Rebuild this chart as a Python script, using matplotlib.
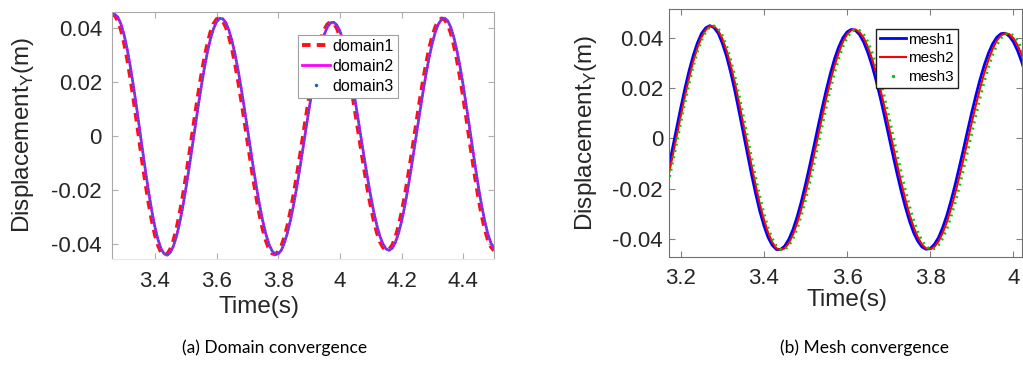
import matplotlib
matplotlib.use("Agg")
import matplotlib.pyplot as plt
from matplotlib.lines import Line2D

plt.rcParams["font.family"] = ["Liberation Sans", "DejaVu Sans"]
plt.rcParams["mathtext.fontset"] = "custom"
plt.rcParams["mathtext.rm"] = "Liberation Sans"

# (a) domain convergence
t_dom = [3.26, 3.27, 3.28, 3.29, 3.30, 3.31, 3.32, 3.33, 3.34, 3.35,
         3.36, 3.37, 3.38, 3.39, 3.40, 3.41, 3.42, 3.43, 3.44, 3.45,
         3.46, 3.47, 3.48, 3.49, 3.50, 3.51, 3.52, 3.53, 3.54, 3.55,
         3.56, 3.57, 3.58, 3.59, 3.60, 3.61, 3.62, 3.63, 3.64, 3.65,
         3.66, 3.67, 3.68, 3.69, 3.70, 3.71, 3.72, 3.73, 3.74, 3.75,
         3.76, 3.77, 3.78, 3.79, 3.80, 3.81, 3.82, 3.83, 3.84, 3.85,
         3.86, 3.87, 3.88, 3.89, 3.90, 3.91, 3.92, 3.93, 3.94, 3.95,
         3.96, 3.97, 3.98, 3.99, 4.00, 4.01, 4.02, 4.03, 4.04, 4.05,
         4.06, 4.07, 4.08, 4.09, 4.10, 4.11, 4.12, 4.13, 4.14, 4.15,
         4.16, 4.17, 4.18, 4.19, 4.20, 4.21, 4.22, 4.23, 4.24, 4.25,
         4.26, 4.27, 4.28, 4.29, 4.30, 4.31, 4.32, 4.33, 4.34, 4.35,
         4.36, 4.37, 4.38, 4.39, 4.40, 4.41, 4.42, 4.43, 4.44, 4.45,
         4.46, 4.47, 4.48, 4.49, 4.50]
domain1 = [0.0449, 0.0445, 0.0426, 0.0392, 0.0345, 0.0286, 0.0218, 0.0142, 0.0062, -0.0020,
           -0.0102, -0.0179, -0.0250, -0.0312, -0.0365, -0.0404, -0.0430, -0.0440, -0.0437, -0.0419,
           -0.0388, -0.0344, -0.0290, -0.0227, -0.0156, -0.0081, -0.0003, 0.0075, 0.0150, 0.0220,
           0.0284, 0.0338, 0.0382, 0.0413, 0.0431, 0.0435, 0.0425, 0.0403, 0.0369, 0.0323,
           0.0267, 0.0203, 0.0133, 0.0059, -0.0017, -0.0092, -0.0165, -0.0233, -0.0294, -0.0346,
           -0.0387, -0.0417, -0.0434, -0.0438, -0.0429, -0.0408, -0.0375, -0.0332, -0.0278, -0.0217,
           -0.0150, -0.0079, -0.0005, 0.0069, 0.0140, 0.0206, 0.0266, 0.0319, 0.0362, 0.0394,
           0.0413, 0.0421, 0.0416, 0.0399, 0.0369, 0.0329, 0.0279, 0.0221, 0.0156, 0.0086,
           0.0014, -0.0059, -0.0130, -0.0198, -0.0259, -0.0313, -0.0357, -0.0391, -0.0412, -0.0423,
           -0.0420, -0.0404, -0.0376, -0.0336, -0.0285, -0.0226, -0.0159, -0.0087, -0.0013, 0.0062,
           0.0136, 0.0205, 0.0268, 0.0324, 0.0369, 0.0403, 0.0425, 0.0434, 0.0430, 0.0411,
           0.0380, 0.0335, 0.0280, 0.0215, 0.0144, 0.0068, -0.0011, -0.0088, -0.0163, -0.0232,
           -0.0294, -0.0344, -0.0384, -0.0410, -0.0424]
domain2 = [0.0445, 0.0449, 0.0439, 0.0413, 0.0374, 0.0322, 0.0259, 0.0188, 0.0111, 0.0029,
           -0.0053, -0.0133, -0.0209, -0.0277, -0.0336, -0.0383, -0.0417, -0.0436, -0.0441, -0.0431,
           -0.0408, -0.0372, -0.0324, -0.0266, -0.0199, -0.0126, -0.0050, 0.0028, 0.0105, 0.0179,
           0.0247, 0.0307, 0.0357, 0.0395, 0.0421, 0.0434, 0.0433, 0.0419, 0.0391, 0.0352,
           0.0302, 0.0243, 0.0176, 0.0104, 0.0029, -0.0047, -0.0122, -0.0193, -0.0258, -0.0315,
           -0.0363, -0.0400, -0.0425, -0.0437, -0.0436, -0.0423, -0.0396, -0.0359, -0.0311, -0.0255,
           -0.0191, -0.0122, -0.0049, 0.0025, 0.0098, 0.0167, 0.0231, 0.0289, 0.0337, 0.0376,
           0.0403, 0.0418, 0.0420, 0.0410, 0.0388, 0.0355, 0.0310, 0.0257, 0.0195, 0.0128,
           0.0057, -0.0016, -0.0088, -0.0157, -0.0222, -0.0281, -0.0331, -0.0371, -0.0400, -0.0418,
           -0.0423, -0.0415, -0.0394, -0.0361, -0.0317, -0.0263, -0.0200, -0.0131, -0.0057, 0.0018,
           0.0092, 0.0164, 0.0231, 0.0292, 0.0343, 0.0385, 0.0414, 0.0431, 0.0435, 0.0425,
           0.0401, 0.0363, 0.0314, 0.0255, 0.0187, 0.0113, 0.0036, -0.0042, -0.0119, -0.0192,
           -0.0258, -0.0315, -0.0362, -0.0396, -0.0418]
domain3 = [0.0445, 0.0449, 0.0439, 0.0413, 0.0374, 0.0322, 0.0259, 0.0188, 0.0111, 0.0029,
           -0.0053, -0.0133, -0.0209, -0.0277, -0.0336, -0.0383, -0.0417, -0.0436, -0.0441, -0.0431,
           -0.0408, -0.0372, -0.0324, -0.0266, -0.0199, -0.0126, -0.0050, 0.0028, 0.0105, 0.0179,
           0.0247, 0.0307, 0.0357, 0.0395, 0.0421, 0.0434, 0.0433, 0.0419, 0.0391, 0.0352,
           0.0302, 0.0243, 0.0176, 0.0104, 0.0029, -0.0047, -0.0122, -0.0193, -0.0258, -0.0315,
           -0.0363, -0.0400, -0.0425, -0.0437, -0.0436, -0.0423, -0.0396, -0.0359, -0.0311, -0.0255,
           -0.0191, -0.0122, -0.0049, 0.0025, 0.0098, 0.0167, 0.0231, 0.0289, 0.0337, 0.0376,
           0.0403, 0.0418, 0.0420, 0.0410, 0.0388, 0.0355, 0.0310, 0.0257, 0.0195, 0.0128,
           0.0057, -0.0016, -0.0088, -0.0157, -0.0222, -0.0281, -0.0331, -0.0371, -0.0400, -0.0418,
           -0.0423, -0.0415, -0.0394, -0.0361, -0.0317, -0.0263, -0.0200, -0.0131, -0.0057, 0.0018,
           0.0092, 0.0164, 0.0231, 0.0292, 0.0343, 0.0385, 0.0414, 0.0431, 0.0435, 0.0425,
           0.0401, 0.0363, 0.0314, 0.0255, 0.0187, 0.0113, 0.0036, -0.0042, -0.0119, -0.0192,
           -0.0258, -0.0315, -0.0362, -0.0396, -0.0418]

# (b) mesh convergence
t_mesh = [3.17, 3.18, 3.19, 3.20, 3.21, 3.22, 3.23, 3.24, 3.25, 3.26,
          3.27, 3.28, 3.29, 3.30, 3.31, 3.32, 3.33, 3.34, 3.35, 3.36,
          3.37, 3.38, 3.39, 3.40, 3.41, 3.42, 3.43, 3.44, 3.45, 3.46,
          3.47, 3.48, 3.49, 3.50, 3.51, 3.52, 3.53, 3.54, 3.55, 3.56,
          3.57, 3.58, 3.59, 3.60, 3.61, 3.62, 3.63, 3.64, 3.65, 3.66,
          3.67, 3.68, 3.69, 3.70, 3.71, 3.72, 3.73, 3.74, 3.75, 3.76,
          3.77, 3.78, 3.79, 3.80, 3.81, 3.82, 3.83, 3.84, 3.85, 3.86,
          3.87, 3.88, 3.89, 3.90, 3.91, 3.92, 3.93, 3.94, 3.95, 3.96,
          3.97, 3.98, 3.99, 4.00, 4.01, 4.02, 4.03]
mesh1 = [-0.0122, -0.0042, 0.0040, 0.0121, 0.0198, 0.0268, 0.0329, 0.0379, 0.0417, 0.0439,
         0.0448, 0.0440, 0.0418, 0.0378, 0.0327, 0.0263, 0.0190, 0.0109, 0.0025, -0.0059,
         -0.0142, -0.0219, -0.0289, -0.0347, -0.0394, -0.0425, -0.0442, -0.0442, -0.0428, -0.0401,
         -0.0362, -0.0311, -0.0251, -0.0183, -0.0109, -0.0033, 0.0045, 0.0121, 0.0193, 0.0259,
         0.0317, 0.0364, 0.0400, 0.0423, 0.0433, 0.0429, 0.0412, 0.0382, 0.0340, 0.0289,
         0.0228, 0.0160, 0.0087, 0.0011, -0.0065, -0.0139, -0.0209, -0.0273, -0.0329, -0.0375,
         -0.0409, -0.0432, -0.0441, -0.0438, -0.0421, -0.0394, -0.0354, -0.0305, -0.0247, -0.0183,
         -0.0113, -0.0041, 0.0033, 0.0105, 0.0173, 0.0236, 0.0292, 0.0339, 0.0376, 0.0402,
         0.0416, 0.0418, 0.0406, 0.0383, 0.0348, 0.0303, 0.0248]
mesh2 = [-0.0153, -0.0074, 0.0008, 0.0089, 0.0168, 0.0241, 0.0306, 0.0360, 0.0403, 0.0431,
         0.0446, 0.0445, 0.0429, 0.0396, 0.0350, 0.0291, 0.0222, 0.0144, 0.0061, -0.0023,
         -0.0107, -0.0186, -0.0260, -0.0323, -0.0375, -0.0413, -0.0437, -0.0444, -0.0437, -0.0416,
         -0.0382, -0.0336, -0.0280, -0.0216, -0.0145, -0.0070, 0.0008, 0.0085, 0.0160, 0.0229,
         0.0290, 0.0342, 0.0384, 0.0414, 0.0430, 0.0433, 0.0422, 0.0399, 0.0363, 0.0316,
         0.0259, 0.0195, 0.0124, 0.0049, -0.0027, -0.0103, -0.0175, -0.0242, -0.0302, -0.0353,
         -0.0393, -0.0422, -0.0438, -0.0441, -0.0431, -0.0409, -0.0375, -0.0332, -0.0278, -0.0218,
         -0.0151, -0.0081, -0.0008, 0.0065, 0.0135, 0.0201, 0.0261, 0.0313, 0.0356, 0.0389,
         0.0409, 0.0418, 0.0414, 0.0398, 0.0370, 0.0331, 0.0282]
mesh3 = [-0.0178, -0.0100, -0.0019, 0.0062, 0.0142, 0.0217, 0.0286, 0.0343, 0.0390, 0.0423,
         0.0443, 0.0447, 0.0437, 0.0409, 0.0369, 0.0314, 0.0249, 0.0174, 0.0094, 0.0010,
         -0.0074, -0.0154, -0.0230, -0.0297, -0.0355, -0.0398, -0.0428, -0.0442, -0.0442, -0.0427,
         -0.0399, -0.0359, -0.0307, -0.0247, -0.0179, -0.0105, -0.0028, 0.0049, 0.0124, 0.0196,
         0.0261, 0.0318, 0.0365, 0.0400, 0.0423, 0.0433, 0.0429, 0.0412, 0.0383, 0.0342,
         0.0290, 0.0230, 0.0163, 0.0090, 0.0015, -0.0061, -0.0135, -0.0205, -0.0269, -0.0325,
         -0.0371, -0.0407, -0.0430, -0.0441, -0.0438, -0.0424, -0.0397, -0.0360, -0.0311, -0.0256,
         -0.0192, -0.0123, -0.0051, 0.0021, 0.0093, 0.0162, 0.0226, 0.0283, 0.0332, 0.0371,
         0.0398, 0.0415, 0.0418, 0.0409, 0.0388, 0.0356, 0.0312]

y_ticks = [-0.04, -0.02, 0, 0.02, 0.04]
y_ticklabels = ["-0.04", "-0.02", "0", "0.02", "0.04"]
x_ticks_dom = [3.4, 3.6, 3.8, 4.0, 4.2, 4.4]
x_ticklabels_dom = ["3.4", "3.6", "3.8", "4", "4.2", "4.4"]
x_ticks_mesh = [3.2, 3.4, 3.6, 3.8, 4.0]
x_ticklabels_mesh = ["3.2", "3.4", "3.6", "3.8", "4"]

fig = plt.figure(figsize=(10.23, 3.78), dpi=100)
ax1 = fig.add_axes([0.1092, 0.3135, 0.3737, 0.6556])
ax2 = fig.add_axes([0.6543, 0.3193, 0.3445, 0.6561])

# left panel
l1, = ax1.plot(t_dom, domain1, color="#ff1010", lw=2.8, dashes=(2.2, 1.6))
l2, = ax1.plot(t_dom, domain2, color="#ff00ff", lw=2.0)
ax1.plot(t_dom, domain3, color="#1f5fc0", lw=1.5, linestyle=(0, (1.0, 0.5)))
ax1.set_xlim(3.26, 4.50)
ax1.set_ylim(-0.0457, 0.0459)
ax1.set_xticks(x_ticks_dom, x_ticklabels_dom)
ax1.set_yticks(y_ticks, y_ticklabels)
for s in ax1.spines.values():
    s.set_color("#a8a8a8")
ax1.spines["bottom"].set_color("#e6e6e6")
ax1.tick_params(direction="in", top=True, right=True, length=4, width=0.8,
                color="#b0b0b0", labelsize=16, labelcolor="#262626")
ax1.tick_params(axis="y", pad=7)
ax1.tick_params(axis="x", pad=8)
d3 = Line2D([], [], color="#1f5fc0", marker=".", markersize=3, linestyle="none")
leg1 = ax1.legend([l1, l2, d3], ["domain1", "domain2", "domain3"],
                  loc="upper left", bbox_to_anchor=(298 / 1023, 1 - 35 / 378),
                  bbox_transform=fig.transFigure, fontsize=11.5, frameon=True,
                  fancybox=False, framealpha=1, edgecolor="#a0a0a0",
                  borderpad=0.25, labelspacing=0.3, handlelength=1.75,
                  handletextpad=0.15, borderaxespad=0)
leg1.get_frame().set_linewidth(0.8)

# right panel
m1, = ax2.plot(t_mesh, mesh1, color="#0000ff", lw=2.0)
m2, = ax2.plot(t_mesh, mesh2, color="#ff0000", lw=1.5)
ax2.plot(t_mesh, mesh3, color="#10c010", lw=2.0, linestyle=(0, (0.7, 1.6)))
ax2.set_xlim(3.1726, 4.02)
ax2.set_ylim(-0.0473, 0.0513)
ax2.set_xticks(x_ticks_mesh, x_ticklabels_mesh)
ax2.set_yticks(y_ticks, y_ticklabels)
for s in ax2.spines.values():
    s.set_color("#707070")
ax2.tick_params(direction="in", top=True, right=True, length=4, width=0.8,
                color="#808080", labelsize=16, labelcolor="#262626")
ax2.tick_params(axis="y", pad=4.5)
ax2.tick_params(axis="x", pad=8)
g3 = Line2D([], [], color="#10c010", marker=".", markersize=3, linestyle="none")
leg2 = ax2.legend([m1, m2, g3], ["mesh1", "mesh2", "mesh3"],
                  loc="upper left", bbox_to_anchor=(876 / 1023, 1 - 29 / 378),
                  bbox_transform=fig.transFigure, fontsize=11, frameon=True,
                  fancybox=False, framealpha=1, edgecolor="#202020",
                  borderpad=0.25, labelspacing=0.3, handlelength=1.7,
                  handletextpad=0.15, borderaxespad=0)
leg2.get_frame().set_linewidth(1.0)

# axis labels and captions
ylab = "Displacement$_\\mathrm{Y}$(m)"
fig.text(23 / 1023, 1 - 135.5 / 378, ylab, rotation=90, ha="center", va="center",
         fontsize=17.5, color="#262626")
fig.text(586 / 1023, 1 - 133 / 378, ylab, rotation=90, ha="center", va="center",
         fontsize=17.5, color="#262626")
fig.text(259 / 1023, 1 - 307 / 378, "Time(s)", ha="center", va="center",
         fontsize=17.5, color="#262626")
fig.text(847 / 1023, 1 - 300 / 378, "Time(s)", ha="center", va="center",
         fontsize=17.5, color="#262626")
fig.text(275 / 1023, 1 - 348 / 378, "(a) Domain convergence", ha="center", va="center",
         fontsize=12.5, family=["Lato", "DejaVu Sans"], color="#000000")
fig.text(865 / 1023, 1 - 348 / 378, "(b) Mesh convergence", ha="center", va="center",
         fontsize=12.5, family=["Lato", "DejaVu Sans"], color="#000000")

fig.savefig("out.png", dpi=100)
